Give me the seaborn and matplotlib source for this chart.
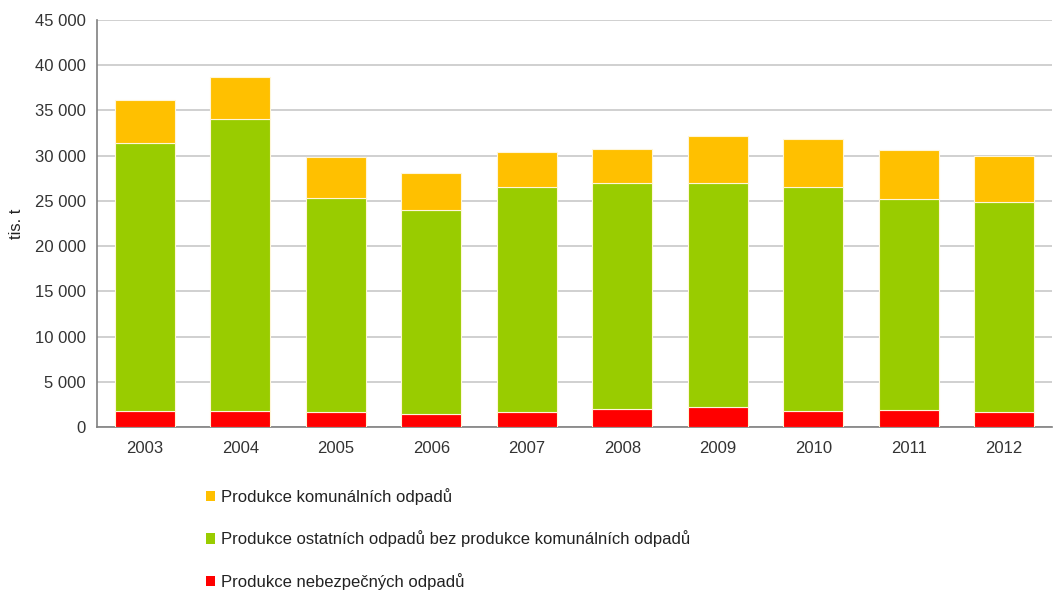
import matplotlib
matplotlib.use("Agg")
import matplotlib.pyplot as plt
from matplotlib.patches import Patch
from matplotlib.ticker import FuncFormatter, FixedLocator
import seaborn as sns
import pandas as pd
import numpy as np

years = ["2003", "2004", "2005", "2006", "2007", "2008", "2009", "2010", "2011", "2012"]
hazardous = [1770, 1770, 1660, 1470, 1660, 2000, 2170, 1730, 1880, 1660]
other = [29630, 32330, 23640, 22530, 24840, 25000, 24830, 24770, 23320, 23240]
municipal = [4700, 4600, 4500, 4060, 3900, 3700, 5200, 5300, 5400, 5100]

labels = [
    "Produkce komunálních odpadů",
    "Produkce ostatních odpadů bez produkce komunálních odpadů",
    "Produkce nebezpečných odpadů",
]
colors = ["#FFC000", "#99CC00", "#FF0000"]

df = pd.DataFrame({"year": years, "haz": hazardous, "oth": other, "mun": municipal})

sns.set_style("white")
plt.rcParams["font.family"] = ["Liberation Sans", "DejaVu Sans"]

fig = plt.figure(figsize=(10.55, 5.90), dpi=100)
ax = fig.add_axes([97 / 1055, 1 - 427 / 590, (1052 - 97) / 1055, (427 - 20) / 590])

b1 = np.array(hazardous)
b2 = b1 + np.array(other)
common = dict(order=years, width=0.63, linewidth=0.8, edgecolor="#fff6d8", zorder=3, ax=ax)
sns.barplot(data=df, x="year", y="haz", color=colors[2], saturation=1, **common)
sns.barplot(data=df, x="year", y="oth", bottom=b1, color=colors[1], saturation=1, **common)
sns.barplot(data=df, x="year", y="mun", bottom=b2, color=colors[0], saturation=1, **common)

ax.set_xlim(-0.5, 9.5)
ax.set_ylim(0, 45000)
ax.set_yticks(np.arange(0, 45001, 5000))
ax.yaxis.set_major_formatter(FuncFormatter(lambda v, p: f"{int(v):,}".replace(",", " ")))
ax.grid(axis="y", color="#c8c8c8", linewidth=1.2, zorder=0)
ax.set_axisbelow(True)

ax.xaxis.set_minor_locator(FixedLocator(np.arange(-0.5, 9.6, 1.0)))
ax.tick_params(axis="x", which="major", length=0, pad=10, labelsize=12, colors="#333333")
ax.tick_params(axis="x", which="minor", length=5, width=1, color="#808080", direction="out")
ax.tick_params(axis="y", which="major", length=5, width=1, color="#808080", direction="out",
               labelsize=12, labelcolor="#333333", pad=3)

for s in ["top", "right"]:
    ax.spines[s].set_visible(False)
for s in ["left", "bottom"]:
    ax.spines[s].set_color("#808080")
    ax.spines[s].set_linewidth(1.2)

ax.set_xlabel("")
ax.set_ylabel("tis. t", fontsize=12, color="#222222", labelpad=8)

handles = [Patch(facecolor=c, edgecolor="none") for c in colors]
fig.legend(handles, labels, loc="upper left", bbox_to_anchor=(199 / 1055, 1 - 481 / 590),
           frameon=False, fontsize=12, handlelength=0.55, handleheight=0.55,
           handletextpad=0.35, labelspacing=1.55, borderaxespad=0, labelcolor="#222222")

fig.savefig("out.png", dpi=100)
